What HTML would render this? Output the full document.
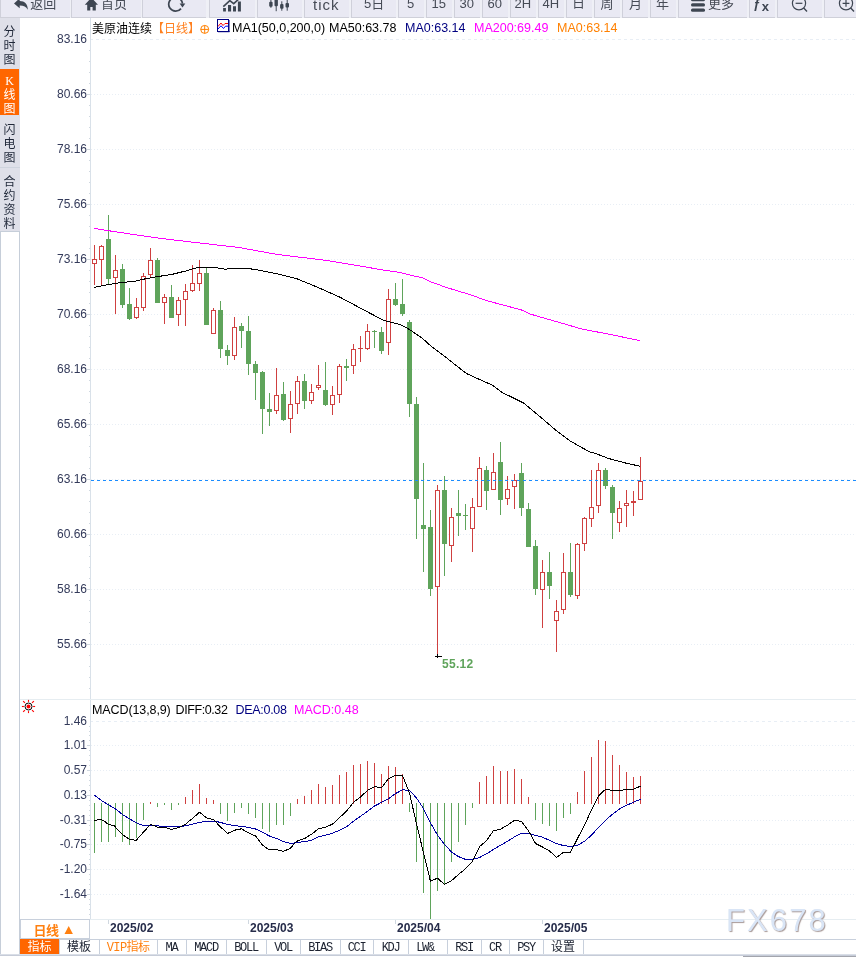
<!DOCTYPE html>
<html><head><meta charset="utf-8"><title>美原油连续 日线</title><style>
*{box-sizing:border-box;margin:0;padding:0}
html,body{width:856px;height:957px;overflow:hidden;background:#fff}
body{position:relative;font-family:"Liberation Sans","Noto Sans CJK SC",sans-serif;font-size:12px;color:#000}
.abs{position:absolute;white-space:nowrap}
#tb{position:absolute;left:0;top:0;width:856px;height:18px;background:#eff0f6;overflow:hidden;will-change:transform;opacity:0.999}
.b{position:absolute;top:0;height:18px;background:#e9e9f3;border-left:1px solid #cfd0da;border-bottom:1px solid #cfd0d9;color:#464b56;font-size:13px;overflow:hidden}
.b span{position:absolute;white-space:nowrap;line-height:14px}
.b svg{position:absolute;overflow:visible}
#side{position:absolute;left:0;top:18px;width:20px;height:213px;background:#dfe0e9;will-change:transform;opacity:0.999}
#side div{position:absolute;left:-0.5px;width:20px;text-align:center;font-size:12px;line-height:14px;color:#1f2738}
#sidebox{position:absolute;left:0;top:231px;width:20px;height:724px;border:1px solid #c6ced9;border-bottom:none;background:#fff}
.yl{position:absolute;left:40px;width:47px;text-align:right;font-size:12px;line-height:12px;color:#333a5a}
.hd{position:absolute;white-space:nowrap;font-size:12.5px;line-height:14px}
.dt{position:absolute;font-size:12px;font-weight:bold;color:#262c4a;line-height:12px;white-space:nowrap}
.tab{position:absolute;top:939px;height:15px;border-left:1px solid #c8d0dc;border-top:1px solid #c8d0dc;font-family:"Liberation Mono","Noto Sans CJK SC",monospace;font-size:12px;line-height:17px;text-align:center;color:#1c2230;letter-spacing:-1.3px;padding-right:1px;white-space:nowrap;overflow:hidden}
</style></head>
<body>
<div id="tb"><div class="b" style="left:0px;width:70px"><svg style="left:12px;top:-3px" width="16" height="16" viewBox="0 0 16 16"><path d="M1 6.4 L6.7 1.3 V3.9 C11.8 3.9 14.9 7 14.8 12.8 C13.2 9.9 10.8 8.6 6.7 8.6 V11.2 Z" fill="#3e4652"/></svg><span style="left:29.3px;top:-3px">返回</span></div><div class="b" style="left:71px;width:70px"><svg style="left:13px;top:-4px" width="15" height="15" viewBox="0 0 15 15"><path d="M6.4 1.6 L-0.2 8.8 H2.2 V14.6 H5.3 V11 H7.6 V14.6 H10.8 V8.8 H13 Z" fill="#3e4652"/></svg><span style="left:29px;top:-3px">首页</span></div><div class="b" style="left:142px;width:64px"><svg style="left:24px;top:-5px" width="20" height="18" viewBox="0 0 20 18"><path d="M14 13.6 A6.9 6.9 0 1 1 15.5 8.6" fill="none" stroke="#3e4652" stroke-width="1.7"/><path d="M12.6 8.5 H18.3 L15.5 12.4 Z" fill="#3e4652"/></svg></div><div class="b" style="left:209px;width:46px"><svg style="left:13px;top:-5px" width="20" height="17" viewBox="0 0 20 17"><path d="M0.1 16.6 V13.1 H2.9 V16.6 Z M5 16.6 V9.9 H8.1 V16.6 Z M10 16.6 V11.3 H13 V16.6 Z M14.9 16.6 V6.4 H17.9 V16.6 Z" fill="#3e4652"/><path d="M0.3 11.6 L6.8 5.6 L10.7 8.6 L17.5 2.5" fill="none" stroke="#3e4652" stroke-width="1.6"/></svg></div><div class="b" style="left:257px;width:45px"><svg style="left:11px;top:-6px" width="22" height="18" viewBox="0 0 22 18"><g fill="#3e4652"><rect x="0.2" y="7.7" width="3.4" height="5" rx="1"/><rect x="1.4" y="4" width="1" height="9.8"/><rect x="5.5" y="3" width="3.4" height="9.2" rx="1"/><rect x="6.7" y="0" width="1" height="17.2"/><rect x="11.1" y="9.9" width="3.4" height="4.8" rx="1"/><rect x="12.3" y="7.3" width="1" height="9.4"/><rect x="16.5" y="9.1" width="3.5" height="4.5" rx="1"/><rect x="17.7" y="4" width="1" height="12.7"/></g></svg></div><div class="b" style="left:304px;width:45px"><span style="left:8px;top:-4.5px;font-size:15px;line-height:18px;letter-spacing:1px">tick</span></div><div class="b" style="left:351px;width:45px"><span style="left:12px;top:-3.5px">5日</span></div><div class="b" style="left:398px;width:26px"><span style="left:8px;top:-3px">5</span></div><div class="b" style="left:426px;width:26px"><span style="left:4.5px;top:-3px">15</span></div><div class="b" style="left:454px;width:26px"><span style="left:4.5px;top:-3px">30</span></div><div class="b" style="left:482px;width:26px"><span style="left:4.5px;top:-3px">60</span></div><div class="b" style="left:510px;width:26px"><span style="left:3.5px;top:-3px">2H</span></div><div class="b" style="left:538px;width:26px"><span style="left:3.5px;top:-3px">4H</span></div><div class="b" style="left:566px;width:26px"><span style="left:5px;top:-4px">日</span></div><div class="b" style="left:594px;width:26px"><span style="left:5.5px;top:-3px">周</span></div><div class="b" style="left:622px;width:26px"><span style="left:6px;top:-3px">月</span></div><div class="b" style="left:650px;width:26px"><span style="left:5px;top:-3px">年</span></div><div class="b" style="left:678px;width:69px"><svg style="left:12px;top:-2.2px" width="14" height="14" viewBox="0 0 14 14"><g fill="#3e4652"><rect x="0" y="0" width="14" height="3.2" rx="1.5"/><rect x="0" y="5.3" width="14" height="3.2" rx="1.5"/><rect x="0" y="10.6" width="14" height="3.2" rx="1.5"/></g></svg><span style="left:29px;top:-3px">更多</span></div><div class="b" style="left:749px;width:26px"><span style="left:3.3px;top:-3px;font-weight:bold;font-size:13px;line-height:14px;color:#3e4652">ƒ</span><span style="left:11.8px;top:0.2px;font-weight:bold;font-size:13px;line-height:14px;color:#3e4652">x</span></div><div class="b" style="left:777px;width:45px"><svg style="left:12.7px;top:-4.8px" width="18" height="18" viewBox="0 0 18 18"><circle cx="8" cy="8.3" r="6.6" fill="none" stroke="#3e4652" stroke-width="1.2"/><path d="M12.7 13 L16 16.4" stroke="#3e4652" stroke-width="1.4"/><path d="M4.6 8.3 H11.4" stroke="#3e4652" stroke-width="1.2"/></svg></div><div class="b" style="left:824px;width:32px"><svg style="left:13px;top:-5px" width="18" height="18" viewBox="0 0 18 18"><circle cx="8" cy="8.3" r="6.6" fill="none" stroke="#3e4652" stroke-width="1.2"/><path d="M12.7 13 L16 16.4" stroke="#3e4652" stroke-width="1.4"/><path d="M4.6 8.3 H11.4 M8 4.9 V11.7" stroke="#3e4652" stroke-width="1.2"/></svg></div></div>
<div id="side"><div style="top:51px;height:46px;background:#ff6600;width:19px"></div><div style="top:7px">分</div><div style="top:21px">时</div><div style="top:35px">图</div><div style="top:56px;font-family:'Liberation Serif',serif;color:#fff">K</div><div style="top:70px;color:#fff">线</div><div style="top:84px;color:#fff">图</div><div style="top:104.5px">闪</div><div style="top:118.5px">电</div><div style="top:132.5px">图</div><div style="top:149px;height:1px;background:#cfd4de;width:20px"></div><div style="top:157px">合</div><div style="top:171px">约</div><div style="top:185px">资</div><div style="top:199px">料</div></div><div id="sidebox"></div>
<svg class="abs" style="left:0;top:0" width="856" height="957" viewBox="0 0 856 957" shape-rendering="crispEdges">
<rect x="90" y="18" width="1" height="901" fill="#d9e1e9"/>
<rect x="20" y="699" width="836" height="1" fill="#e6edf1"/>
<rect x="20" y="919" width="836" height="1" fill="#e6edf1"/>
<line x1="96" y1="39.5" x2="856" y2="39.5" stroke="#e8eef5" stroke-dasharray="3 3"/><rect x="91" y="39" width="2" height="1" fill="#e8eef5"/>
<line x1="91" y1="94.5" x2="856" y2="94.5" stroke="#e8eef5" stroke-dasharray="1 2"/>
<rect x="87" y="94" width="3" height="1" fill="#d0d8e0"/>
<line x1="91" y1="149.5" x2="856" y2="149.5" stroke="#e8eef5" stroke-dasharray="1 2"/>
<rect x="87" y="149" width="3" height="1" fill="#d0d8e0"/>
<line x1="91" y1="204.5" x2="856" y2="204.5" stroke="#e8eef5" stroke-dasharray="1 2"/>
<rect x="87" y="204" width="3" height="1" fill="#d0d8e0"/>
<line x1="91" y1="259.5" x2="856" y2="259.5" stroke="#e8eef5" stroke-dasharray="1 2"/>
<rect x="87" y="259" width="3" height="1" fill="#d0d8e0"/>
<line x1="91" y1="314.5" x2="856" y2="314.5" stroke="#e8eef5" stroke-dasharray="1 2"/>
<rect x="87" y="314" width="3" height="1" fill="#d0d8e0"/>
<line x1="91" y1="369.5" x2="856" y2="369.5" stroke="#e8eef5" stroke-dasharray="1 2"/>
<rect x="87" y="369" width="3" height="1" fill="#d0d8e0"/>
<line x1="91" y1="424.5" x2="856" y2="424.5" stroke="#e8eef5" stroke-dasharray="1 2"/>
<rect x="87" y="424" width="3" height="1" fill="#d0d8e0"/>
<line x1="91" y1="479.5" x2="856" y2="479.5" stroke="#e8eef5" stroke-dasharray="1 2"/>
<rect x="87" y="479" width="3" height="1" fill="#d0d8e0"/>
<line x1="91" y1="534.5" x2="856" y2="534.5" stroke="#e8eef5" stroke-dasharray="1 2"/>
<rect x="87" y="534" width="3" height="1" fill="#d0d8e0"/>
<line x1="91" y1="589.5" x2="856" y2="589.5" stroke="#e8eef5" stroke-dasharray="1 2"/>
<rect x="87" y="589" width="3" height="1" fill="#d0d8e0"/>
<line x1="91" y1="644.5" x2="856" y2="644.5" stroke="#e8eef5" stroke-dasharray="1 2"/>
<rect x="87" y="644" width="3" height="1" fill="#d0d8e0"/>
<rect x="89" y="50" width="1" height="1" fill="#d0d8e0"/>
<rect x="89" y="61" width="1" height="1" fill="#d0d8e0"/>
<rect x="89" y="72" width="1" height="1" fill="#d0d8e0"/>
<rect x="89" y="83" width="1" height="1" fill="#d0d8e0"/>
<rect x="89" y="105" width="1" height="1" fill="#d0d8e0"/>
<rect x="89" y="116" width="1" height="1" fill="#d0d8e0"/>
<rect x="89" y="127" width="1" height="1" fill="#d0d8e0"/>
<rect x="89" y="138" width="1" height="1" fill="#d0d8e0"/>
<rect x="89" y="160" width="1" height="1" fill="#d0d8e0"/>
<rect x="89" y="171" width="1" height="1" fill="#d0d8e0"/>
<rect x="89" y="182" width="1" height="1" fill="#d0d8e0"/>
<rect x="89" y="193" width="1" height="1" fill="#d0d8e0"/>
<rect x="89" y="215" width="1" height="1" fill="#d0d8e0"/>
<rect x="89" y="226" width="1" height="1" fill="#d0d8e0"/>
<rect x="89" y="237" width="1" height="1" fill="#d0d8e0"/>
<rect x="89" y="248" width="1" height="1" fill="#d0d8e0"/>
<rect x="89" y="270" width="1" height="1" fill="#d0d8e0"/>
<rect x="89" y="281" width="1" height="1" fill="#d0d8e0"/>
<rect x="89" y="292" width="1" height="1" fill="#d0d8e0"/>
<rect x="89" y="303" width="1" height="1" fill="#d0d8e0"/>
<rect x="89" y="325" width="1" height="1" fill="#d0d8e0"/>
<rect x="89" y="336" width="1" height="1" fill="#d0d8e0"/>
<rect x="89" y="347" width="1" height="1" fill="#d0d8e0"/>
<rect x="89" y="358" width="1" height="1" fill="#d0d8e0"/>
<rect x="89" y="380" width="1" height="1" fill="#d0d8e0"/>
<rect x="89" y="391" width="1" height="1" fill="#d0d8e0"/>
<rect x="89" y="402" width="1" height="1" fill="#d0d8e0"/>
<rect x="89" y="413" width="1" height="1" fill="#d0d8e0"/>
<rect x="89" y="435" width="1" height="1" fill="#d0d8e0"/>
<rect x="89" y="446" width="1" height="1" fill="#d0d8e0"/>
<rect x="89" y="457" width="1" height="1" fill="#d0d8e0"/>
<rect x="89" y="468" width="1" height="1" fill="#d0d8e0"/>
<rect x="89" y="490" width="1" height="1" fill="#d0d8e0"/>
<rect x="89" y="501" width="1" height="1" fill="#d0d8e0"/>
<rect x="89" y="512" width="1" height="1" fill="#d0d8e0"/>
<rect x="89" y="523" width="1" height="1" fill="#d0d8e0"/>
<rect x="89" y="545" width="1" height="1" fill="#d0d8e0"/>
<rect x="89" y="556" width="1" height="1" fill="#d0d8e0"/>
<rect x="89" y="567" width="1" height="1" fill="#d0d8e0"/>
<rect x="89" y="578" width="1" height="1" fill="#d0d8e0"/>
<rect x="89" y="600" width="1" height="1" fill="#d0d8e0"/>
<rect x="89" y="611" width="1" height="1" fill="#d0d8e0"/>
<rect x="89" y="622" width="1" height="1" fill="#d0d8e0"/>
<rect x="89" y="633" width="1" height="1" fill="#d0d8e0"/>
<rect x="89" y="655" width="1" height="1" fill="#d0d8e0"/>
<rect x="89" y="666" width="1" height="1" fill="#d0d8e0"/>
<rect x="89" y="677" width="1" height="1" fill="#d0d8e0"/>
<rect x="89" y="688" width="1" height="1" fill="#d0d8e0"/>
<line x1="96" y1="721.5" x2="856" y2="721.5" stroke="#e8eef5" stroke-dasharray="3 3"/><rect x="91" y="721" width="2" height="1" fill="#e8eef5"/>
<line x1="91" y1="745.5" x2="856" y2="745.5" stroke="#e8eef5" stroke-dasharray="1 2"/>
<rect x="87" y="745" width="3" height="1" fill="#d0d8e0"/>
<line x1="91" y1="770.5" x2="856" y2="770.5" stroke="#e8eef5" stroke-dasharray="1 2"/>
<rect x="87" y="770" width="3" height="1" fill="#d0d8e0"/>
<line x1="91" y1="795.5" x2="856" y2="795.5" stroke="#e8eef5" stroke-dasharray="1 2"/>
<rect x="87" y="795" width="3" height="1" fill="#d0d8e0"/>
<line x1="91" y1="820.5" x2="856" y2="820.5" stroke="#e8eef5" stroke-dasharray="1 2"/>
<rect x="87" y="820" width="3" height="1" fill="#d0d8e0"/>
<line x1="91" y1="844.5" x2="856" y2="844.5" stroke="#e8eef5" stroke-dasharray="1 2"/>
<rect x="87" y="844" width="3" height="1" fill="#d0d8e0"/>
<line x1="91" y1="869.5" x2="856" y2="869.5" stroke="#e8eef5" stroke-dasharray="1 2"/>
<rect x="87" y="869" width="3" height="1" fill="#d0d8e0"/>
<line x1="91" y1="894.5" x2="856" y2="894.5" stroke="#e8eef5" stroke-dasharray="1 2"/>
<rect x="87" y="894" width="3" height="1" fill="#d0d8e0"/>
<rect x="89" y="726" width="1" height="1" fill="#d0d8e0"/>
<rect x="89" y="731" width="1" height="1" fill="#d0d8e0"/>
<rect x="89" y="735" width="1" height="1" fill="#d0d8e0"/>
<rect x="89" y="740" width="1" height="1" fill="#d0d8e0"/>
<rect x="89" y="750" width="1" height="1" fill="#d0d8e0"/>
<rect x="89" y="755" width="1" height="1" fill="#d0d8e0"/>
<rect x="89" y="760" width="1" height="1" fill="#d0d8e0"/>
<rect x="89" y="765" width="1" height="1" fill="#d0d8e0"/>
<rect x="89" y="775" width="1" height="1" fill="#d0d8e0"/>
<rect x="89" y="780" width="1" height="1" fill="#d0d8e0"/>
<rect x="89" y="785" width="1" height="1" fill="#d0d8e0"/>
<rect x="89" y="790" width="1" height="1" fill="#d0d8e0"/>
<rect x="89" y="800" width="1" height="1" fill="#d0d8e0"/>
<rect x="89" y="805" width="1" height="1" fill="#d0d8e0"/>
<rect x="89" y="810" width="1" height="1" fill="#d0d8e0"/>
<rect x="89" y="815" width="1" height="1" fill="#d0d8e0"/>
<rect x="89" y="825" width="1" height="1" fill="#d0d8e0"/>
<rect x="89" y="830" width="1" height="1" fill="#d0d8e0"/>
<rect x="89" y="834" width="1" height="1" fill="#d0d8e0"/>
<rect x="89" y="839" width="1" height="1" fill="#d0d8e0"/>
<rect x="89" y="849" width="1" height="1" fill="#d0d8e0"/>
<rect x="89" y="854" width="1" height="1" fill="#d0d8e0"/>
<rect x="89" y="859" width="1" height="1" fill="#d0d8e0"/>
<rect x="89" y="864" width="1" height="1" fill="#d0d8e0"/>
<rect x="89" y="874" width="1" height="1" fill="#d0d8e0"/>
<rect x="89" y="879" width="1" height="1" fill="#d0d8e0"/>
<rect x="89" y="884" width="1" height="1" fill="#d0d8e0"/>
<rect x="89" y="889" width="1" height="1" fill="#d0d8e0"/>
<rect x="89" y="899" width="1" height="1" fill="#d0d8e0"/>
<rect x="89" y="904" width="1" height="1" fill="#d0d8e0"/>
<rect x="89" y="909" width="1" height="1" fill="#d0d8e0"/>
<rect x="89" y="914" width="1" height="1" fill="#d0d8e0"/>
<rect x="94" y="245" width="1" height="14" fill="#cf4040"/>
<rect x="94" y="264" width="1" height="21" fill="#cf4040"/>
<rect x="92.5" y="259.5" width="4" height="4" fill="#fff" stroke="#cf4040"/>
<rect x="101" y="245" width="1" height="1" fill="#cf4040"/>
<rect x="101" y="260" width="1" height="25" fill="#cf4040"/>
<rect x="99.5" y="246.5" width="4" height="13" fill="#fff" stroke="#cf4040"/>
<rect x="108" y="215" width="1" height="69" fill="#5fa45b"/>
<rect x="106" y="239" width="5" height="40" fill="#5fa45b"/>
<rect x="115" y="255" width="1" height="15" fill="#cf4040"/>
<rect x="115" y="278" width="1" height="36" fill="#cf4040"/>
<rect x="113.5" y="270.5" width="4" height="7" fill="#fff" stroke="#cf4040"/>
<rect x="122" y="264" width="1" height="44" fill="#5fa45b"/>
<rect x="120" y="269" width="5" height="36" fill="#5fa45b"/>
<rect x="129" y="288" width="1" height="32" fill="#5fa45b"/>
<rect x="127" y="304" width="5" height="15" fill="#5fa45b"/>
<rect x="136" y="298" width="1" height="9" fill="#cf4040"/>
<rect x="136" y="318" width="1" height="1" fill="#cf4040"/>
<rect x="134.5" y="307.5" width="4" height="10" fill="#fff" stroke="#cf4040"/>
<rect x="143" y="273" width="1" height="3" fill="#cf4040"/>
<rect x="143" y="308" width="1" height="3" fill="#cf4040"/>
<rect x="141.5" y="276.5" width="4" height="31" fill="#fff" stroke="#cf4040"/>
<rect x="150" y="248" width="1" height="12" fill="#cf4040"/>
<rect x="150" y="275" width="1" height="2" fill="#cf4040"/>
<rect x="148.5" y="260.5" width="4" height="14" fill="#fff" stroke="#cf4040"/>
<rect x="157" y="258" width="1" height="45" fill="#5fa45b"/>
<rect x="155" y="260" width="5" height="43" fill="#5fa45b"/>
<rect x="164" y="294" width="1" height="3" fill="#cf4040"/>
<rect x="164" y="303" width="1" height="21" fill="#cf4040"/>
<rect x="162.5" y="297.5" width="4" height="5" fill="#fff" stroke="#cf4040"/>
<rect x="171" y="285" width="1" height="33" fill="#5fa45b"/>
<rect x="169" y="297" width="5" height="21" fill="#5fa45b"/>
<rect x="178" y="297" width="1" height="3" fill="#cf4040"/>
<rect x="178" y="315" width="1" height="11" fill="#cf4040"/>
<rect x="176.5" y="300.5" width="4" height="14" fill="#fff" stroke="#cf4040"/>
<rect x="185" y="284" width="1" height="7" fill="#cf4040"/>
<rect x="185" y="300" width="1" height="26" fill="#cf4040"/>
<rect x="183.5" y="291.5" width="4" height="8" fill="#fff" stroke="#cf4040"/>
<rect x="192" y="265" width="1" height="18" fill="#cf4040"/>
<rect x="192" y="291" width="1" height="1" fill="#cf4040"/>
<rect x="190.5" y="283.5" width="4" height="7" fill="#fff" stroke="#cf4040"/>
<rect x="199" y="260" width="1" height="13" fill="#cf4040"/>
<rect x="199" y="284" width="1" height="7" fill="#cf4040"/>
<rect x="197.5" y="273.5" width="4" height="10" fill="#fff" stroke="#cf4040"/>
<rect x="206" y="268" width="1" height="57" fill="#5fa45b"/>
<rect x="204" y="273" width="5" height="52" fill="#5fa45b"/>
<rect x="213" y="308" width="1" height="2" fill="#cf4040"/>
<rect x="211.5" y="310.5" width="4" height="23" fill="#fff" stroke="#cf4040"/>
<rect x="220" y="301" width="1" height="57" fill="#5fa45b"/>
<rect x="218" y="310" width="5" height="39" fill="#5fa45b"/>
<rect x="227" y="345" width="1" height="20" fill="#5fa45b"/>
<rect x="225" y="350" width="5" height="6" fill="#5fa45b"/>
<rect x="234" y="317" width="1" height="10" fill="#cf4040"/>
<rect x="234" y="356" width="1" height="4" fill="#cf4040"/>
<rect x="232.5" y="327.5" width="4" height="28" fill="#fff" stroke="#cf4040"/>
<rect x="241" y="323" width="1" height="25" fill="#5fa45b"/>
<rect x="239" y="326" width="5" height="5" fill="#5fa45b"/>
<rect x="248" y="316" width="1" height="59" fill="#5fa45b"/>
<rect x="246" y="331" width="5" height="33" fill="#5fa45b"/>
<rect x="255" y="361" width="1" height="39" fill="#5fa45b"/>
<rect x="253" y="364" width="5" height="9" fill="#5fa45b"/>
<rect x="262" y="371" width="1" height="63" fill="#5fa45b"/>
<rect x="260" y="372" width="5" height="37" fill="#5fa45b"/>
<rect x="269" y="393" width="1" height="33" fill="#5fa45b"/>
<rect x="267" y="409" width="5" height="3" fill="#5fa45b"/>
<rect x="276" y="368" width="1" height="27" fill="#cf4040"/>
<rect x="276" y="411" width="1" height="3" fill="#cf4040"/>
<rect x="274.5" y="395.5" width="4" height="15" fill="#fff" stroke="#cf4040"/>
<rect x="283" y="382" width="1" height="39" fill="#5fa45b"/>
<rect x="281" y="394" width="5" height="26" fill="#5fa45b"/>
<rect x="290" y="391" width="1" height="13" fill="#cf4040"/>
<rect x="290" y="419" width="1" height="14" fill="#cf4040"/>
<rect x="288.5" y="404.5" width="4" height="14" fill="#fff" stroke="#cf4040"/>
<rect x="297" y="376" width="1" height="5" fill="#cf4040"/>
<rect x="297" y="404" width="1" height="10" fill="#cf4040"/>
<rect x="295.5" y="381.5" width="4" height="22" fill="#fff" stroke="#cf4040"/>
<rect x="304" y="374" width="1" height="35" fill="#5fa45b"/>
<rect x="302" y="381" width="5" height="20" fill="#5fa45b"/>
<rect x="311" y="384" width="1" height="8" fill="#cf4040"/>
<rect x="311" y="401" width="1" height="3" fill="#cf4040"/>
<rect x="309.5" y="392.5" width="4" height="8" fill="#fff" stroke="#cf4040"/>
<rect x="318" y="365" width="1" height="20" fill="#cf4040"/>
<rect x="318" y="388" width="1" height="2" fill="#cf4040"/>
<rect x="316.5" y="385.5" width="4" height="2" fill="#fff" stroke="#cf4040"/>
<rect x="325" y="362" width="1" height="44" fill="#5fa45b"/>
<rect x="323" y="390" width="5" height="15" fill="#5fa45b"/>
<rect x="332" y="386" width="1" height="9" fill="#cf4040"/>
<rect x="332" y="405" width="1" height="10" fill="#cf4040"/>
<rect x="330.5" y="395.5" width="4" height="9" fill="#fff" stroke="#cf4040"/>
<rect x="339" y="364" width="1" height="2" fill="#cf4040"/>
<rect x="339" y="395" width="1" height="8" fill="#cf4040"/>
<rect x="337.5" y="366.5" width="4" height="28" fill="#fff" stroke="#cf4040"/>
<rect x="346" y="359" width="1" height="22" fill="#5fa45b"/>
<rect x="344" y="366" width="5" height="2" fill="#5fa45b"/>
<rect x="353" y="344" width="1" height="5" fill="#cf4040"/>
<rect x="353" y="366" width="1" height="8" fill="#cf4040"/>
<rect x="351.5" y="349.5" width="4" height="16" fill="#fff" stroke="#cf4040"/>
<rect x="360" y="336" width="1" height="12" fill="#cf4040"/>
<rect x="360" y="349" width="1" height="13" fill="#cf4040"/>
<rect x="358" y="348" width="5" height="1" fill="#cf4040"/>
<rect x="367" y="324" width="1" height="7" fill="#cf4040"/>
<rect x="367" y="349" width="1" height="1" fill="#cf4040"/>
<rect x="365.5" y="331.5" width="4" height="17" fill="#fff" stroke="#cf4040"/>
<rect x="374" y="330" width="1" height="18" fill="#5fa45b"/>
<rect x="372" y="331" width="5" height="1" fill="#5fa45b"/>
<rect x="381" y="327" width="1" height="27" fill="#5fa45b"/>
<rect x="379" y="332" width="5" height="19" fill="#5fa45b"/>
<rect x="388" y="289" width="1" height="10" fill="#cf4040"/>
<rect x="388" y="343" width="1" height="12" fill="#cf4040"/>
<rect x="386.5" y="299.5" width="4" height="43" fill="#fff" stroke="#cf4040"/>
<rect x="395" y="283" width="1" height="23" fill="#5fa45b"/>
<rect x="393" y="299" width="5" height="6" fill="#5fa45b"/>
<rect x="402" y="279" width="1" height="37" fill="#5fa45b"/>
<rect x="400" y="304" width="5" height="10" fill="#5fa45b"/>
<rect x="409" y="320" width="1" height="97" fill="#5fa45b"/>
<rect x="407" y="322" width="5" height="82" fill="#5fa45b"/>
<rect x="416" y="397" width="1" height="142" fill="#5fa45b"/>
<rect x="414" y="404" width="5" height="95" fill="#5fa45b"/>
<rect x="423" y="463" width="1" height="109" fill="#5fa45b"/>
<rect x="421" y="525" width="5" height="4" fill="#5fa45b"/>
<rect x="430" y="510" width="1" height="86" fill="#5fa45b"/>
<rect x="428" y="527" width="5" height="62" fill="#5fa45b"/>
<rect x="437" y="485" width="1" height="5" fill="#cf4040"/>
<rect x="437" y="587" width="1" height="69" fill="#cf4040"/>
<rect x="435.5" y="490.5" width="4" height="96" fill="#fff" stroke="#cf4040"/>
<rect x="444" y="476" width="1" height="100" fill="#5fa45b"/>
<rect x="442" y="490" width="5" height="54" fill="#5fa45b"/>
<rect x="451" y="508" width="1" height="9" fill="#cf4040"/>
<rect x="451" y="546" width="1" height="16" fill="#cf4040"/>
<rect x="449.5" y="517.5" width="4" height="28" fill="#fff" stroke="#cf4040"/>
<rect x="458" y="490" width="1" height="46" fill="#5fa45b"/>
<rect x="456" y="513" width="5" height="3" fill="#5fa45b"/>
<rect x="465" y="504" width="1" height="26" fill="#5fa45b"/>
<rect x="463" y="515" width="5" height="1" fill="#5fa45b"/>
<rect x="472" y="498" width="1" height="9" fill="#cf4040"/>
<rect x="472" y="529" width="1" height="23" fill="#cf4040"/>
<rect x="470.5" y="507.5" width="4" height="21" fill="#fff" stroke="#cf4040"/>
<rect x="479" y="457" width="1" height="11" fill="#cf4040"/>
<rect x="477.5" y="468.5" width="4" height="38" fill="#fff" stroke="#cf4040"/>
<rect x="486" y="466" width="1" height="44" fill="#5fa45b"/>
<rect x="484" y="470" width="5" height="21" fill="#5fa45b"/>
<rect x="493" y="453" width="1" height="19" fill="#cf4040"/>
<rect x="491.5" y="472.5" width="4" height="17" fill="#fff" stroke="#cf4040"/>
<rect x="500" y="442" width="1" height="73" fill="#5fa45b"/>
<rect x="498" y="462" width="5" height="38" fill="#5fa45b"/>
<rect x="507" y="476" width="1" height="13" fill="#cf4040"/>
<rect x="507" y="499" width="1" height="6" fill="#cf4040"/>
<rect x="505.5" y="489.5" width="4" height="9" fill="#fff" stroke="#cf4040"/>
<rect x="514" y="474" width="1" height="6" fill="#cf4040"/>
<rect x="514" y="487" width="1" height="22" fill="#cf4040"/>
<rect x="512.5" y="480.5" width="4" height="6" fill="#fff" stroke="#cf4040"/>
<rect x="521" y="463" width="1" height="53" fill="#5fa45b"/>
<rect x="519" y="473" width="5" height="35" fill="#5fa45b"/>
<rect x="528" y="503" width="1" height="44" fill="#5fa45b"/>
<rect x="526" y="509" width="5" height="38" fill="#5fa45b"/>
<rect x="535" y="540" width="1" height="55" fill="#5fa45b"/>
<rect x="533" y="546" width="5" height="43" fill="#5fa45b"/>
<rect x="542" y="560" width="1" height="12" fill="#cf4040"/>
<rect x="542" y="590" width="1" height="38" fill="#cf4040"/>
<rect x="540.5" y="572.5" width="4" height="17" fill="#fff" stroke="#cf4040"/>
<rect x="549" y="552" width="1" height="47" fill="#5fa45b"/>
<rect x="547" y="572" width="5" height="14" fill="#5fa45b"/>
<rect x="556" y="600" width="1" height="11" fill="#cf4040"/>
<rect x="556" y="621" width="1" height="31" fill="#cf4040"/>
<rect x="554.5" y="611.5" width="4" height="9" fill="#fff" stroke="#cf4040"/>
<rect x="563" y="553" width="1" height="19" fill="#cf4040"/>
<rect x="563" y="610" width="1" height="4" fill="#cf4040"/>
<rect x="561.5" y="572.5" width="4" height="37" fill="#fff" stroke="#cf4040"/>
<rect x="570" y="543" width="1" height="54" fill="#5fa45b"/>
<rect x="568" y="572" width="5" height="23" fill="#5fa45b"/>
<rect x="577" y="543" width="1" height="1" fill="#cf4040"/>
<rect x="577" y="596" width="1" height="3" fill="#cf4040"/>
<rect x="575.5" y="544.5" width="4" height="51" fill="#fff" stroke="#cf4040"/>
<rect x="584" y="517" width="1" height="1" fill="#cf4040"/>
<rect x="584" y="544" width="1" height="7" fill="#cf4040"/>
<rect x="582.5" y="518.5" width="4" height="25" fill="#fff" stroke="#cf4040"/>
<rect x="591" y="470" width="1" height="37" fill="#cf4040"/>
<rect x="591" y="519" width="1" height="8" fill="#cf4040"/>
<rect x="589.5" y="507.5" width="4" height="11" fill="#fff" stroke="#cf4040"/>
<rect x="598" y="463" width="1" height="7" fill="#cf4040"/>
<rect x="598" y="506" width="1" height="7" fill="#cf4040"/>
<rect x="596.5" y="470.5" width="4" height="35" fill="#fff" stroke="#cf4040"/>
<rect x="605" y="468" width="1" height="21" fill="#5fa45b"/>
<rect x="603" y="470" width="5" height="16" fill="#5fa45b"/>
<rect x="612" y="485" width="1" height="54" fill="#5fa45b"/>
<rect x="610" y="487" width="5" height="26" fill="#5fa45b"/>
<rect x="619" y="501" width="1" height="7" fill="#cf4040"/>
<rect x="619" y="523" width="1" height="9" fill="#cf4040"/>
<rect x="617.5" y="508.5" width="4" height="14" fill="#fff" stroke="#cf4040"/>
<rect x="626" y="490" width="1" height="13" fill="#cf4040"/>
<rect x="626" y="506" width="1" height="21" fill="#cf4040"/>
<rect x="624.5" y="503.5" width="4" height="2" fill="#fff" stroke="#cf4040"/>
<rect x="633" y="491" width="1" height="10" fill="#cf4040"/>
<rect x="633" y="503" width="1" height="13" fill="#cf4040"/>
<rect x="631" y="501" width="5" height="2" fill="#cf4040"/>
<rect x="640" y="457" width="1" height="24" fill="#cf4040"/>
<rect x="638.5" y="481.5" width="4" height="18" fill="#fff" stroke="#cf4040"/>
<line x1="91" y1="480.5" x2="856" y2="480.5" stroke="#1a8cff" stroke-dasharray="3 3"/>
<polyline points="94.1,228.4 108.5,230.7 140.6,235.6 168.6,239.4 196.6,242.6 224.7,245.9 238.0,247.3 276.3,254.3 325.4,260.3 360.0,266.0 385.2,270.4 397.8,272.1 422.4,277.9 431.1,281.9 445.1,287.0 460.9,291.9 470.0,294.5 486.4,300.6 521.4,309.9 529.6,313.9 556.4,321.6 582.1,329.1 610.2,334.4 639.9,340.7" fill="none" stroke="#ff00ff" stroke-width="1" stroke-linejoin="round"/>
<polyline points="94.1,287.3 108.5,284.5 122.5,282.4 133.6,281.5 143.5,279.2 157.6,276.6 171.6,274.5 185.6,271.0 192.6,268.9 199.6,267.1 214.2,267.3 224.7,269.2 234.2,268.3 244.7,268.3 255.3,269.4 276.3,273.6 297.3,278.9 318.3,287.6 340.0,297.2 362.8,309.4 383.8,320.5 400.5,324.7 409.6,329.6 422.4,338.3 431.1,346.2 445.1,356.7 466.2,373.4 478.4,379.0 492.2,385.1 501.5,392.1 523.7,403.1 540.1,416.7 556.4,430.7 570.5,441.2 589.2,451.7 597.3,454.1 607.9,458.3 624.2,462.7 639.9,466.2" fill="none" stroke="#000" stroke-width="1" stroke-linejoin="round"/>
<rect x="435" y="656" width="7" height="1" fill="#000"/><rect x="437" y="654" width="1" height="4" fill="#000"/>
<rect x="94" y="803" width="1" height="50" fill="#5fa45b"/>
<rect x="101" y="803" width="1" height="39" fill="#5fa45b"/>
<rect x="108" y="803" width="1" height="39" fill="#5fa45b"/>
<rect x="115" y="803" width="1" height="34" fill="#5fa45b"/>
<rect x="122" y="803" width="1" height="39" fill="#5fa45b"/>
<rect x="129" y="803" width="1" height="42" fill="#5fa45b"/>
<rect x="136" y="803" width="1" height="35" fill="#5fa45b"/>
<rect x="143" y="803" width="1" height="17" fill="#5fa45b"/>
<rect x="150" y="802" width="1" height="2" fill="#cf4040"/>
<rect x="157" y="803" width="1" height="4" fill="#5fa45b"/>
<rect x="164" y="803" width="1" height="2" fill="#5fa45b"/>
<rect x="171" y="803" width="1" height="7" fill="#5fa45b"/>
<rect x="178" y="803" width="1" height="2" fill="#5fa45b"/>
<rect x="185" y="797" width="1" height="7" fill="#cf4040"/>
<rect x="192" y="790" width="1" height="14" fill="#cf4040"/>
<rect x="199" y="784" width="1" height="20" fill="#cf4040"/>
<rect x="206" y="798" width="1" height="6" fill="#cf4040"/>
<rect x="213" y="800" width="1" height="4" fill="#cf4040"/>
<rect x="220" y="803" width="1" height="11" fill="#5fa45b"/>
<rect x="227" y="803" width="1" height="18" fill="#5fa45b"/>
<rect x="234" y="803" width="1" height="10" fill="#5fa45b"/>
<rect x="241" y="803" width="1" height="5" fill="#5fa45b"/>
<rect x="248" y="803" width="1" height="11" fill="#5fa45b"/>
<rect x="255" y="803" width="1" height="15" fill="#5fa45b"/>
<rect x="262" y="803" width="1" height="26" fill="#5fa45b"/>
<rect x="269" y="803" width="1" height="29" fill="#5fa45b"/>
<rect x="276" y="803" width="1" height="22" fill="#5fa45b"/>
<rect x="283" y="803" width="1" height="22" fill="#5fa45b"/>
<rect x="290" y="803" width="1" height="13" fill="#5fa45b"/>
<rect x="297" y="799" width="1" height="5" fill="#cf4040"/>
<rect x="304" y="796" width="1" height="8" fill="#cf4040"/>
<rect x="311" y="790" width="1" height="14" fill="#cf4040"/>
<rect x="318" y="784" width="1" height="20" fill="#cf4040"/>
<rect x="325" y="787" width="1" height="17" fill="#cf4040"/>
<rect x="332" y="785" width="1" height="19" fill="#cf4040"/>
<rect x="339" y="775" width="1" height="29" fill="#cf4040"/>
<rect x="346" y="772" width="1" height="32" fill="#cf4040"/>
<rect x="353" y="765" width="1" height="39" fill="#cf4040"/>
<rect x="360" y="764" width="1" height="40" fill="#cf4040"/>
<rect x="367" y="761" width="1" height="43" fill="#cf4040"/>
<rect x="374" y="763" width="1" height="41" fill="#cf4040"/>
<rect x="381" y="774" width="1" height="30" fill="#cf4040"/>
<rect x="388" y="766" width="1" height="38" fill="#cf4040"/>
<rect x="395" y="767" width="1" height="37" fill="#cf4040"/>
<rect x="402" y="774" width="1" height="30" fill="#cf4040"/>
<rect x="409" y="803" width="1" height="9" fill="#5fa45b"/>
<rect x="416" y="803" width="1" height="59" fill="#5fa45b"/>
<rect x="423" y="803" width="1" height="90" fill="#5fa45b"/>
<rect x="430" y="803" width="1" height="116" fill="#5fa45b"/>
<rect x="437" y="803" width="1" height="88" fill="#5fa45b"/>
<rect x="444" y="803" width="1" height="81" fill="#5fa45b"/>
<rect x="451" y="803" width="1" height="59" fill="#5fa45b"/>
<rect x="458" y="803" width="1" height="39" fill="#5fa45b"/>
<rect x="465" y="803" width="1" height="22" fill="#5fa45b"/>
<rect x="472" y="803" width="1" height="5" fill="#5fa45b"/>
<rect x="479" y="782" width="1" height="22" fill="#cf4040"/>
<rect x="486" y="776" width="1" height="28" fill="#cf4040"/>
<rect x="493" y="766" width="1" height="38" fill="#cf4040"/>
<rect x="500" y="771" width="1" height="33" fill="#cf4040"/>
<rect x="507" y="771" width="1" height="33" fill="#cf4040"/>
<rect x="514" y="769" width="1" height="35" fill="#cf4040"/>
<rect x="521" y="779" width="1" height="25" fill="#cf4040"/>
<rect x="528" y="797" width="1" height="7" fill="#cf4040"/>
<rect x="535" y="803" width="1" height="17" fill="#5fa45b"/>
<rect x="542" y="803" width="1" height="21" fill="#5fa45b"/>
<rect x="549" y="803" width="1" height="23" fill="#5fa45b"/>
<rect x="556" y="803" width="1" height="28" fill="#5fa45b"/>
<rect x="563" y="803" width="1" height="15" fill="#5fa45b"/>
<rect x="570" y="803" width="1" height="11" fill="#5fa45b"/>
<rect x="577" y="792" width="1" height="12" fill="#cf4040"/>
<rect x="584" y="771" width="1" height="33" fill="#cf4040"/>
<rect x="591" y="757" width="1" height="47" fill="#cf4040"/>
<rect x="598" y="740" width="1" height="64" fill="#cf4040"/>
<rect x="605" y="741" width="1" height="63" fill="#cf4040"/>
<rect x="612" y="755" width="1" height="49" fill="#cf4040"/>
<rect x="619" y="765" width="1" height="39" fill="#cf4040"/>
<rect x="626" y="772" width="1" height="32" fill="#cf4040"/>
<rect x="633" y="777" width="1" height="27" fill="#cf4040"/>
<rect x="640" y="776" width="1" height="28" fill="#cf4040"/>
<polyline points="94.5,795.2 101.5,800.5 108.5,804.8 115.5,808.9 122.5,814.5 129.5,818.9 136.5,822.7 140.6,824.6 143.5,825.3 150.6,825.3 157.6,825.9 164.6,826.4 171.6,826.4 178.6,826.4 185.6,825.9 192.6,824.1 199.6,822.4 206.6,821.1 213.6,821.1 220.6,822.4 227.7,824.6 234.5,825.5 241.5,826.4 248.5,827.3 255.5,829.0 262.5,832.3 269.5,836.0 276.5,838.5 283.5,841.6 290.5,843.4 297.6,842.5 304.6,841.6 311.6,840.2 318.6,836.9 325.6,835.1 332.6,833.2 339.6,830.2 346.6,826.7 353.6,821.1 360.6,816.2 367.6,811.3 374.6,806.0 381.5,802.4 388.5,798.7 395.5,793.6 402.4,789.8 409.4,790.4 416.5,797.9 423.5,808.6 430.4,822.8 437.4,835.0 444.5,844.4 451.5,851.9 458.5,856.6 465.4,859.4 472.4,859.4 479.5,857.5 486.5,853.8 493.4,849.5 500.4,845.3 507.5,841.3 514.5,836.9 521.5,833.4 528.5,833.4 535.5,835.5 542.5,837.2 549.5,840.4 556.5,843.5 563.5,845.6 570.6,846.5 577.6,845.3 584.6,841.3 591.6,835.1 598.6,827.2 605.6,820.2 612.6,814.1 619.6,808.9 626.6,805.3 633.6,802.2 640.6,799.2" fill="none" stroke="#0000a0" stroke-width="1" stroke-linejoin="round"/>
<polyline points="94.5,820.6 100.3,819.4 103.8,820.6 108.5,824.5 114.3,825.9 122.5,834.6 129.5,839.4 136.2,840.4 143.5,832.0 150.6,824.5 157.6,827.1 164.6,827.1 171.6,829.4 178.6,827.6 185.6,824.1 192.6,818.3 199.6,812.2 206.6,818.0 213.6,819.7 220.6,827.1 227.7,833.4 234.5,830.2 241.5,828.8 248.5,832.9 255.5,836.0 262.5,845.1 269.5,850.0 276.5,849.5 283.5,851.3 290.5,848.3 294.6,843.4 297.6,840.8 304.6,838.5 311.6,834.1 318.6,828.8 325.6,827.1 332.6,824.1 339.6,817.6 346.6,811.0 353.6,802.2 360.6,796.9 367.6,790.3 374.6,786.6 381.5,788.0 388.5,778.6 395.5,775.2 402.4,775.2 409.4,792.7 416.5,823.7 423.5,852.8 430.4,881.1 437.4,878.2 444.5,884.3 451.5,880.7 458.5,874.5 465.4,868.8 472.4,861.3 479.5,846.6 486.5,840.6 493.4,830.7 500.4,829.3 507.5,825.2 514.5,820.3 521.5,821.5 528.5,830.8 535.5,843.5 542.5,847.0 549.5,850.9 556.5,857.4 563.5,852.3 570.6,852.1 577.6,838.3 584.6,825.1 591.6,809.7 598.6,795.7 605.6,789.2 612.6,790.5 619.6,790.5 626.6,789.6 633.6,789.2 640.6,786.1" fill="none" stroke="#000" stroke-width="1" stroke-linejoin="round"/>
</svg>
<div class="yl" style="top:33px">83.16</div><div class="yl" style="top:88px">80.66</div><div class="yl" style="top:143px">78.16</div><div class="yl" style="top:198px">75.66</div><div class="yl" style="top:253px">73.16</div><div class="yl" style="top:308px">70.66</div><div class="yl" style="top:363px">68.16</div><div class="yl" style="top:418px">65.66</div><div class="yl" style="top:473px">63.16</div><div class="yl" style="top:528px">60.66</div><div class="yl" style="top:583px">58.16</div><div class="yl" style="top:638px">55.66</div><div class="yl" style="top:715px">1.46</div><div class="yl" style="top:739px">1.01</div><div class="yl" style="top:764px">0.57</div><div class="yl" style="top:789px">0.13</div><div class="yl" style="top:814px">-0.31</div><div class="yl" style="top:838px">-0.75</div><div class="yl" style="top:863px">-1.20</div><div class="yl" style="top:888px">-1.64</div>
<div class="hd" style="left:92px;top:22px;font-size:12px">美原油连续<span style="color:#ff8020">【日线】</span></div><svg class="abs" style="left:199px;top:24px" width="12" height="12" viewBox="0 0 12 12"><circle cx="5.7" cy="5.4" r="4" fill="none" stroke="#ff8000" stroke-width="1"/><path d="M1.7 5.4 H9.7 M5.7 1.4 V9.4" stroke="#ff8000" stroke-width="1"/></svg><svg class="abs" style="left:217px;top:19px" width="13" height="14" viewBox="0 0 13 14"><rect x="0.5" y="0.5" width="11" height="12" fill="#fff" stroke="#000080"/><rect x="1" y="12" width="11.5" height="1.2" fill="#000080"/><rect x="11.3" y="1" width="1.2" height="12" fill="#000080"/><path d="M1 7.5 L4 4 L6 6.5 L8 4.5 L11 4.5" fill="none" stroke="#ff0000" stroke-width="1"/><path d="M1 10 L4 6.8 L6.5 9.5 L8.5 7.2 L11 7.2" fill="none" stroke="#0000ff" stroke-width="1"/></svg><div class="hd" style="left:232px;top:21px">MA1(50,0,200,0)</div><div class="hd" style="left:329px;top:21px">MA50:63.78</div><div class="hd" style="left:405px;top:21px;color:#000080">MA0:63.14</div><div class="hd" style="left:474px;top:21px;color:#ff00ff">MA200:69.49</div><div class="hd" style="left:557px;top:21px;color:#ff8000">MA0:63.14</div><div class="hd" style="left:92px;top:702.5px;letter-spacing:-0.1px">MACD(13,8,9)</div><div class="hd" style="left:175.5px;top:702.5px;letter-spacing:-0.4px">DIFF:0.32</div><div class="hd" style="left:235.5px;top:702.5px;letter-spacing:-0.3px;color:#000080">DEA:0.08</div><div class="hd" style="left:294px;top:702.5px;color:#ff00ff">MACD:0.48</div><svg class="abs" style="left:20px;top:698px" width="18" height="18" viewBox="0 0 18 18"><circle cx="8.5" cy="8.5" r="3.5" fill="none" stroke="#000" stroke-width="1"/><circle cx="8.5" cy="8.5" r="2" fill="#ff0000"/><line x1="13.10" y1="8.50" x2="15.10" y2="8.50" stroke="#ff0000" stroke-width="1.1"/><line x1="12.04" y1="12.04" x2="13.87" y2="13.87" stroke="#ff0000" stroke-width="1.1"/><line x1="8.50" y1="13.10" x2="8.50" y2="15.10" stroke="#ff0000" stroke-width="1.1"/><line x1="4.96" y1="12.04" x2="3.13" y2="13.87" stroke="#ff0000" stroke-width="1.1"/><line x1="3.90" y1="8.50" x2="1.90" y2="8.50" stroke="#ff0000" stroke-width="1.1"/><line x1="4.96" y1="4.96" x2="3.13" y2="3.13" stroke="#ff0000" stroke-width="1.1"/><line x1="8.50" y1="3.90" x2="8.50" y2="1.90" stroke="#ff0000" stroke-width="1.1"/><line x1="12.04" y1="4.96" x2="13.87" y2="3.13" stroke="#ff0000" stroke-width="1.1"/></svg><div class="abs" style="left:442px;top:658px;letter-spacing:0.3px;font-size:12px;font-weight:bold;color:#5fa45b;line-height:13px">55.12</div>
<div class="abs" style="left:20px;top:919px;width:70px;height:20px;border:1px solid #c8d0dc;background:#fff"></div><div class="abs" style="left:33.5px;top:923.5px;font-size:13px;letter-spacing:-0.5px;font-weight:bold;color:#ff8010;line-height:14px">日线</div><svg class="abs" style="left:64px;top:925px" width="10" height="10"><path d="M0.5 9 L4.7 1 L8.9 9 Z" fill="#ff8010"/></svg><div class="abs" style="left:108px;top:920px;width:1px;height:4px;background:#d0d8e0"></div><div class="dt" style="left:110px;top:922px">2025/02</div><div class="abs" style="left:248px;top:920px;width:1px;height:4px;background:#d0d8e0"></div><div class="dt" style="left:250px;top:922px">2025/03</div><div class="abs" style="left:395px;top:920px;width:1px;height:4px;background:#d0d8e0"></div><div class="dt" style="left:397px;top:922px">2025/04</div><div class="abs" style="left:542px;top:920px;width:1px;height:4px;background:#d0d8e0"></div><div class="dt" style="left:544px;top:922px">2025/05</div><div class="abs" style="left:20px;top:939px;width:836px;height:1px;background:#c8d0dc"></div><div class="abs" style="left:0;top:954px;width:856px;height:1px;background:#d9dee7"></div><div class="abs" style="left:0;top:955px;width:856px;height:1px;background:#c6ccd8"></div><div class="abs" style="left:743px;top:956px;width:113px;height:1px;background:#a3a5ad"></div><div class="tab" style="left:20px;width:39px;background:#ff6600;border-color:#ff6600;color:#fff;letter-spacing:0">指标</div><div class="tab" style="left:59px;width:40px;letter-spacing:0">模板</div><div class="tab" style="left:99px;width:58px;color:#ff8010;letter-spacing:-0.6px">VIP指标</div><div class="tab" style="left:157px;width:29px;">MA</div><div class="tab" style="left:186px;width:40px;">MACD</div><div class="tab" style="left:226px;width:40px;">BOLL</div><div class="tab" style="left:266px;width:34px;">VOL</div><div class="tab" style="left:300px;width:40px;">BIAS</div><div class="tab" style="left:340px;width:33px;">CCI</div><div class="tab" style="left:373px;width:35px;">KDJ</div><div class="tab" style="left:408px;width:39px;padding-right:6px">LW&amp;</div><div class="tab" style="left:447px;width:34px;">RSI</div><div class="tab" style="left:481px;width:28px;">CR</div><div class="tab" style="left:509px;width:34px;">PSY</div><div class="tab" style="left:543px;width:40px;letter-spacing:0">设置</div><div class="tab" style="left:583px;width:1px"></div><div class="abs" style="left:726px;top:903px;font-size:31px;line-height:36px;letter-spacing:2.1px;color:#d9e5f6;text-shadow:1px 1px 1px #a89a98">FX678</div>
</body></html>
